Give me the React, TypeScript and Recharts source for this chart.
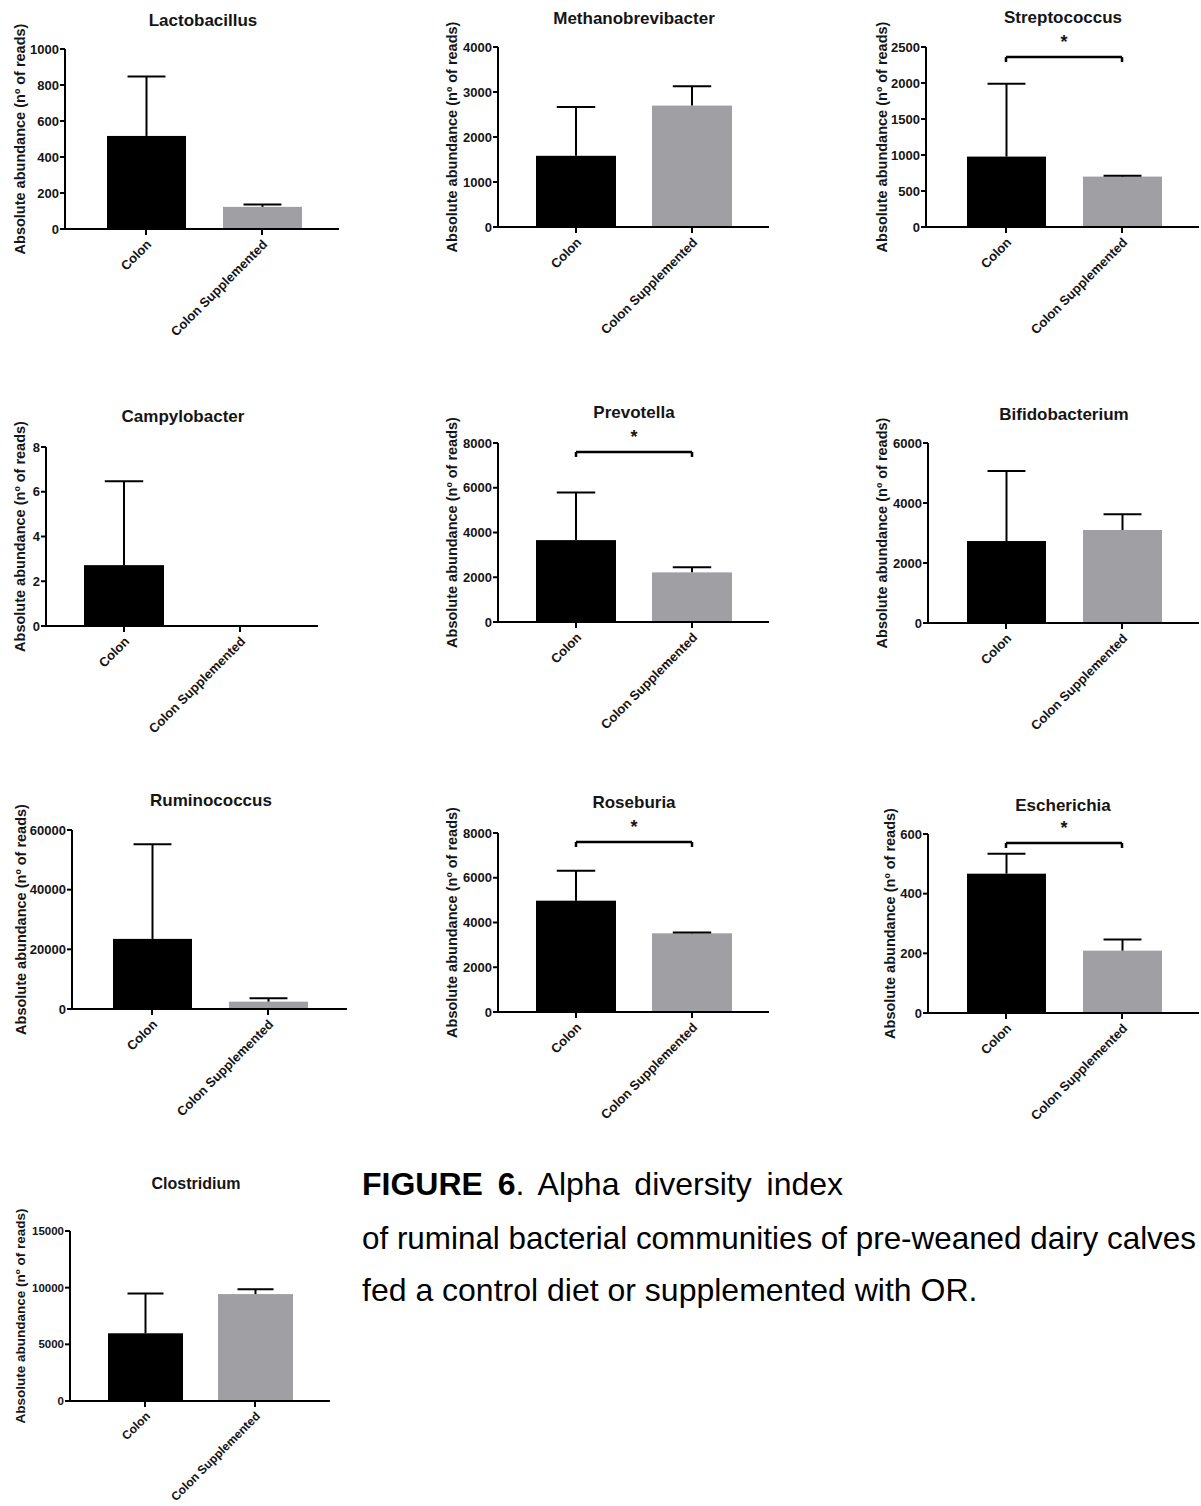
import React from 'react';
import { BarChart, Bar, XAxis, YAxis, ReferenceLine, Cell } from 'recharts';

const categories = ['Colon', 'Colon Supplemented'];
const genera = [
  'Lactobacillus', 'Methanobrevibacter', 'Streptococcus',
  'Campylobacter', 'Prevotella', 'Bifidobacterium',
  'Ruminococcus', 'Roseburia', 'Escherichia', 'Clostridium',
];
const colonMeans = [517, 1582, 978, 2.72, 3660, 2732, 23500, 4975, 467, 5975];
const colonErrTop = [847, 2668, 1988, 6.47, 5790, 5066, 55200, 6318, 534, 9495];
const suppMeans = [123, 2698, 700, 0, 2218, 3100, 2470, 3518, 209, 9435];
const suppErrTop = [136, 3128, 711, 0, 2442, 3622, 3590, 3550, 246, 9850];
const yTicks = [
  [0, 200, 400, 600, 800, 1000],
  [0, 1000, 2000, 3000, 4000],
  [0, 500, 1000, 1500, 2000, 2500],
  [0, 2, 4, 6, 8],
  [0, 2000, 4000, 6000, 8000],
  [0, 2000, 4000, 6000],
  [0, 20000, 40000, 60000],
  [0, 2000, 4000, 6000, 8000],
  [0, 200, 400, 600],
  [0, 5000, 10000, 15000],
];
const significant = [false, false, true, false, true, false, false, true, true, false];
const bracketLevel = [0, 0, 2360, 0, 7600, 0, 0, 7600, 570, 0];
const yLabel = 'Absolute abundance (nº of reads)';
const captionBold = 'FIGURE 6';
const captionLines = [
  '. Alpha diversity index',
  'of ruminal bacterial communities of pre-weaned dairy calves',
  'fed a control diet or supplemented with OR.',
];

// ---- layout (page pixel geometry, styles) ----
const FONT = '"Liberation Sans", Arial, Helvetica, sans-serif';
const barColors = ['#000000', '#a0a0a4'];
const TEXT = '#151515';
const layout = [
  { axisX: 65, top: 49, bottom: 229, right: 339, c1: 146, c2: 262, barW: 79, labelX: 20, titleX: 203, titleY: 26 },
  { axisX: 498, top: 47, bottom: 227, right: 769, c1: 576, c2: 692, barW: 80, labelX: 452, titleX: 634, titleY: 24 },
  { axisX: 926, top: 47, bottom: 227, right: 1199, c1: 1006, c2: 1122, barW: 79, labelX: 882, titleX: 1063, titleY: 23 },
  { axisX: 46, top: 447, bottom: 626, right: 318, c1: 124, c2: 240, barW: 80, labelX: 20, titleX: 183, titleY: 422 },
  { axisX: 498, top: 443, bottom: 622, right: 769, c1: 576, c2: 692, barW: 80, labelX: 452, titleX: 634, titleY: 418 },
  { axisX: 928, top: 443, bottom: 623, right: 1199, c1: 1006, c2: 1122, barW: 79, labelX: 882, titleX: 1064, titleY: 420 },
  { axisX: 72, top: 830, bottom: 1009, right: 347, c1: 152, c2: 268, barW: 79, labelX: 21, titleX: 211, titleY: 806 },
  { axisX: 498, top: 833, bottom: 1012, right: 769, c1: 576, c2: 692, barW: 80, labelX: 452, titleX: 634, titleY: 808 },
  { axisX: 928, top: 834, bottom: 1013, right: 1199, c1: 1006, c2: 1122, barW: 79, labelX: 890, titleX: 1063, titleY: 811 },
  { axisX: 70, top: 1231, bottom: 1401, right: 330, c1: 145, c2: 255, barW: 75, labelX: 20, titleX: 196, titleY: 1189, small: true },
];

const BarWithError = (props: any) => {
  const { x, y, width, height, fill, payload } = props;
  const bottom = y + height;
  const cx = x + width / 2;
  const capHalf = width * 0.24;
  let err: React.ReactNode = null;
  if (payload && payload.value > 0 && payload.err > payload.value) {
    const ey = bottom - (payload.err / payload.value) * height;
    err = (
      <g stroke="#000" strokeWidth={2}>
        <line x1={cx} y1={y} x2={cx} y2={ey} />
        <line x1={cx - capHalf} y1={ey} x2={cx + capHalf} y2={ey} />
      </g>
    );
  }
  return (
    <g>
      {height > 0 && <rect x={x} y={y} width={width} height={height} fill={fill} />}
      {err}
    </g>
  );
};

const CatTick = (props: any) => {
  const { x, y, payload, fs } = props;
  const ax = x + 3;
  const ay = y + 5;
  return (
    <text
      x={ax}
      y={ay}
      transform={`rotate(-45 ${ax} ${ay})`}
      textAnchor="end"
      dominantBaseline="central"
      fontFamily={FONT}
      fontWeight="bold"
      fontSize={fs}
      fill={TEXT}
    >
      {payload.value}
    </text>
  );
};

function Panel({ i }: { i: number }) {
  const L: any = layout[i];
  const plotW = L.right - L.axisX;
  const plotH = L.bottom - L.top;
  const bw = L.c2 - L.c1;
  const padL = L.c1 - bw / 2 - L.axisX;
  const padR = L.right - (L.c2 + bw / 2);
  const AX = 90;
  const MT = 60;
  const XH = 115;
  const MR = 4;
  const tickFs = L.small ? 11.5 : 13;
  const labelFs = L.small ? 13.5 : 14.5;
  const catFs = L.small ? 12 : 13;
  const yMax = yTicks[i][yTicks[i].length - 1];
  const rows = categories.map((c, k) => ({
    cat: c,
    value: k === 0 ? colonMeans[i] : suppMeans[i],
    err: k === 0 ? colonErrTop[i] : suppErrTop[i],
  }));
  const lvl = bracketLevel[i];
  const drop = (yMax * 5) / plotH;
  return (
    <div style={{ position: 'absolute', left: L.axisX - AX, top: L.top - MT }}>
      <BarChart
        width={AX + plotW + MR}
        height={MT + plotH + XH}
        data={rows}
        margin={{ top: MT, right: MR, bottom: 0, left: 0 }}
      >
        <XAxis
          dataKey="cat"
          height={XH}
          padding={{ left: padL, right: padR }}
          interval={0}
          axisLine={{ stroke: '#000', strokeWidth: 2 }}
          tickLine={{ stroke: '#000', strokeWidth: 2 }}
          tickSize={6}
          tickMargin={2}
          tick={<CatTick fs={catFs} />}
        />
        <YAxis
          width={AX}
          type="number"
          domain={[0, yMax]}
          ticks={yTicks[i]}
          interval={0}
          allowDataOverflow
          axisLine={{ stroke: '#000', strokeWidth: 2 }}
          tickLine={{ stroke: '#000', strokeWidth: 2 }}
          tickSize={5}
          tickMargin={1}
          tick={{ fill: TEXT, fontSize: tickFs, fontWeight: 'bold', fontFamily: FONT }}
          label={{
            value: yLabel,
            angle: -90,
            position: 'center',
            dx: L.labelX - (L.axisX - AX / 2),
            fontSize: labelFs,
            fontWeight: 'bold',
            fontFamily: FONT,
            fill: TEXT,
          }}
        />
        <Bar dataKey="value" barSize={L.barW} isAnimationActive={false} shape={BarWithError}>
          {rows.map((r, k) => (
            <Cell key={r.cat} fill={barColors[k]} />
          ))}
        </Bar>
        {significant[i] && (
          <ReferenceLine
            segment={[{ x: categories[0], y: lvl }, { x: categories[1], y: lvl }]}
            stroke="#000"
            strokeWidth={2.5}
            ifOverflow="visible"
            label={{ value: '*', position: 'top', offset: 9, fontSize: 18, fontWeight: 'bold', fontFamily: FONT, fill: TEXT }}
          />
        )}
        {significant[i] && (
          <ReferenceLine
            segment={[{ x: categories[0], y: lvl }, { x: categories[0], y: lvl - drop }]}
            stroke="#000"
            strokeWidth={2.5}
            ifOverflow="visible"
          />
        )}
        {significant[i] && (
          <ReferenceLine
            segment={[{ x: categories[1], y: lvl }, { x: categories[1], y: lvl - drop }]}
            stroke="#000"
            strokeWidth={2.5}
            ifOverflow="visible"
          />
        )}
      </BarChart>
    </div>
  );
}

export default function App() {
  return (
    <div
      style={{
        position: 'absolute',
        left: 0,
        top: 0,
        width: 1201,
        height: 1506,
        background: '#fff',
        overflow: 'hidden',
      }}
    >
      {genera.map((g, i) => (
        <Panel key={g} i={i} />
      ))}
      <svg
        width={1201}
        height={1506}
        style={{ position: 'absolute', left: 0, top: 0, pointerEvents: 'none' }}
      >
        {genera.map((g, i) => {
          const L: any = layout[i];
          return (
            <text
              key={g}
              x={L.titleX}
              y={L.titleY}
              textAnchor="middle"
              fontFamily={FONT}
              fontWeight="bold"
              fontSize={L.small ? 16 : 17}
              fill={TEXT}
            >
              {g}
            </text>
          );
        })}
        <text x={362} y={1195} fontFamily={FONT} fontSize={32} fill="#000" style={{ wordSpacing: 6 }}>
          <tspan fontWeight="bold">{captionBold}</tspan>
          <tspan>{captionLines[0]}</tspan>
        </text>
        <text x={362} y={1249} fontFamily={FONT} fontSize={31.4} fill="#000">
          {captionLines[1]}
        </text>
        <text x={362} y={1301} fontFamily={FONT} fontSize={32} fill="#000">
          {captionLines[2]}
        </text>
      </svg>
    </div>
  );
}
